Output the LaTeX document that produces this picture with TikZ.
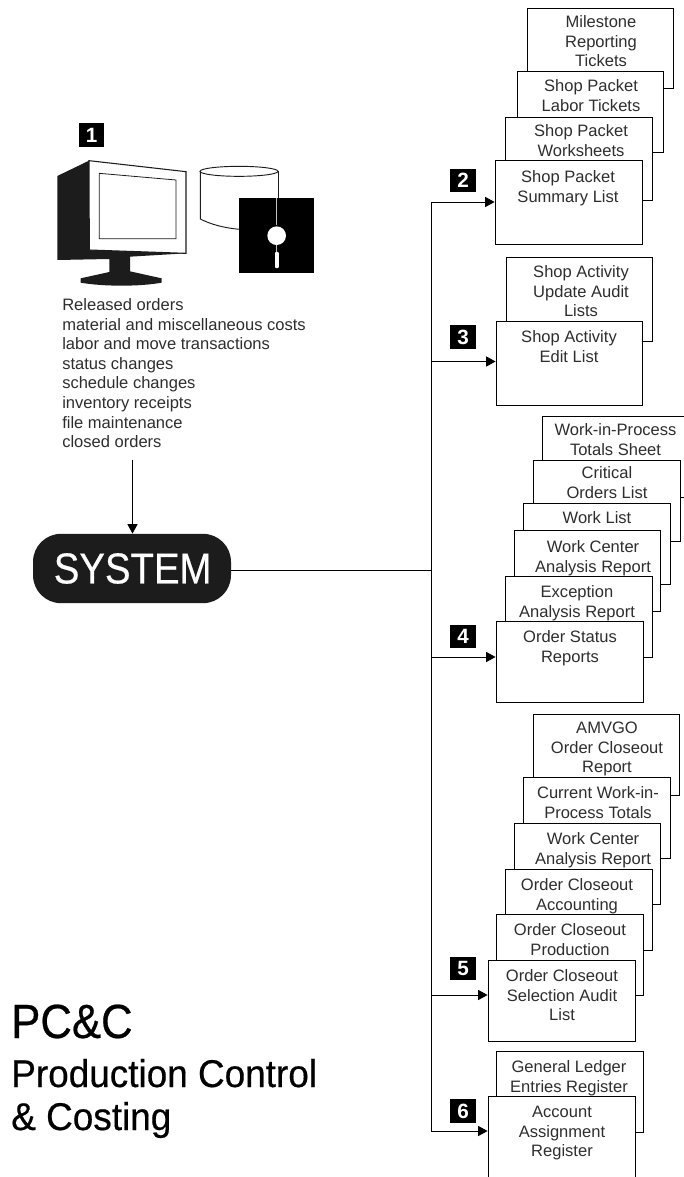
\documentclass[tikz,border=0pt]{standalone}
\usepackage{fontspec}
\setmainfont{Liberation Sans}
\newfontfamily\heavyfont[FakeBold=0.5]{Liberation Sans}
\usetikzlibrary{arrows.meta}
\definecolor{ink}{HTML}{1C1C1C}
\definecolor{bodyink}{HTML}{2E2E2E}
\newcommand{\bodyfont}{\fontsize{12.4pt}{14.7pt}\selectfont}
% \rep{name}{left}{top}{right}{bottom}{text centre x}{first line centre y}{text}
\newcommand{\rep}[8]{%
  \pgfmathsetlengthmacro{\repw}{(#4-#2)*0.75pt}%
  \pgfmathsetlengthmacro{\reph}{(#5-#3)*0.75pt}%
  \node[repbox,minimum width=\repw,minimum height=\reph] (#1) at ({(#2+#4)/2},{(#3+#5)/2}) {};%
  \node[reptext] (#1t) at (#6,#7-10.5) {\rule{0pt}{12pt}#8};%
}
\tikzset{
  x=0.75pt,y=-0.75pt,
  repbox/.style={draw=black,fill=white,line width=0.65pt,inner sep=0pt,rectangle},
  reptext/.style={anchor=north,align=center,inner sep=0pt,text=bodyink,font=\bodyfont},
  tagbox/.style={fill=black,text=white,inner sep=0pt,minimum width=19pt,minimum height=17.5pt,font=\fontsize{15.5pt}{16pt}\selectfont\bfseries},
  conn/.style={draw=black,line width=0.65pt},
  arrowed/.style={conn,-{Triangle[length=7pt,width=7.5pt]}},
  sysnode/.style={fill=ink,text=white,rounded corners=21pt,minimum width=148.5pt,minimum height=52pt,inner sep=0pt,font=\heavyfont\fontsize{32.5pt}{32.5pt}\selectfont},
  titletext/.style={anchor=base west,inner sep=0pt,text=black},
  listtext/.style={anchor=north west,align=left,inner sep=0pt,text=bodyink,font=\bodyfont}
}
\begin{document}
\begin{tikzpicture}
\clip (0,0) rectangle (684,1177);
\fill[white] (0,0) rectangle (684,1177);

% monitor, cylinder, diskette
\begin{scope}[shift={(40,110)},x=0.25pt,y=-0.25pt]
  \fill[ink] (52,198) -- (147,152) -- (148,420) -- (438,430) -- (270,440) -- (270,484)
     -- (365,505) -- (365,518) .. controls (300,530) and (190,530) .. (122,518) -- (122,505)
     -- (208,486) -- (208,447) -- (52,450) -- cycle;
  \draw[ink,line width=0.8pt,fill=white] (147,152) -- (438,185) -- (438,430) -- (148,420) -- cycle;
  \draw[ink,line width=0.6pt] (178,190) -- (408,210) -- (408,386) -- (178,386) -- cycle;
  \draw[ink,line width=0.7pt] (481,184) -- (481,327) .. controls (510,342) and (550,354) .. (600,358);
  \draw[ink,line width=0.7pt] (714,184) -- (714,270);
  \draw[ink,line width=0.7pt] (597,184) ellipse [x radius=117,y radius=15];
  \fill[black] (597,264) rectangle (822,489);
  \draw[white!75!black,line width=0.35pt] (710,264) -- (710,345);
  \draw[white!75!black,line width=0.35pt] (710,405) -- (710,425);
  \fill[white] (710,377) circle [radius=28];
  \draw[white,line width=3pt,line cap=round] (710,431) -- (710,469);
\end{scope}

% number tags
\node[tagbox] (tag1) at (91.5,135) {1};
\node[tagbox] (tag2) at (463,180.5) {2};
\node[tagbox] (tag3) at (463,337) {3};
\node[tagbox] (tag4) at (463,636.5) {4};
\node[tagbox] (tag5) at (463,968.5) {5};
\node[tagbox] (tag6) at (463,1111) {6};

% input list
\node[listtext] (inputs) at (62,294.3) {\rule{0pt}{12pt}Released orders\\material and miscellaneous costs\\labor and move transactions\\status changes\\schedule changes\\inventory receipts\\file maintenance\\closed orders};

% system
\node[sysnode] (sys) at (132,568.5) {\hspace{1pt}\scalebox{0.885}[1]{SYSTEM}};
\coordinate (sysin) at (132.5,460);
\draw[arrowed] (sysin) -- (sysin |- sys.north);

% report stacks
\rep{m1}{527}{8}{673}{88}{601}{22}{Milestone\\Reporting\\Tickets}
\rep{m2}{517}{71}{663}{152}{591}{86}{Shop Packet\\Labor Tickets}
\rep{m3}{505}{117}{652}{200}{581}{131}{Shop Packet\\Worksheets}
\rep{m4}{495}{160}{642}{244}{568}{177}{Shop Packet\\Summary List}

\rep{a1}{506}{257}{652}{341}{581}{272}{Shop Activity\\Update Audit\\Lists}
\rep{a2}{496}{321}{642}{405}{569}{337}{Shop Activity\\Edit List}

\rep{w1}{542}{416}{695}{497}{615.5}{430}{Work-in-Process\\Totals Sheet}
\rep{w2}{533}{460}{680}{541}{607}{473}{Critical\\Orders List}
\rep{w3}{523}{503}{670}{584}{597}{518}{Work List}
\rep{w4}{514}{530}{660}{611}{593}{547}{Work Center\\Analysis Report}
\rep{w5}{505}{576}{652}{657}{577}{592}{Exception\\Analysis Report}
\rep{w6}{496}{621}{643}{702}{570}{637}{Order Status\\Reports}

\rep{c1}{533}{714}{679}{795}{607}{728}{AMVGO\\Order Closeout\\Report}
\rep{c2}{523}{777}{670}{858}{598}{793}{Current Work-in-\\Process Totals}
\rep{c3}{514}{823}{660}{904}{593}{839}{Work Center\\Analysis Report}
\rep{c4}{505}{869}{652}{950}{577}{885}{Order Closeout\\Accounting}
\rep{c5}{496}{914}{643}{995}{570}{930}{Order Closeout\\Production}
\rep{c6}{488}{960}{635}{1041}{562}{976}{Order Closeout\\Selection Audit\\List}

\rep{g1}{496}{1051}{643}{1132}{569}{1067}{General Ledger\\Entries Register}
\rep{g2}{488}{1096}{635}{1200}{562}{1112}{Account\\Assignment\\Register}

% connectors
\coordinate (t2) at (431,202);
\coordinate (t3) at (431,361.5);
\coordinate (tj) at (431,570.5);
\coordinate (t4) at (431,657);
\coordinate (t5) at (431,995);
\coordinate (t6) at (431,1131);
\draw[conn] (tj -| sys.east) -- (tj);
\draw[conn,line cap=rect] (t2) -- (t6);
\draw[arrowed] (t2) -- (t2 -| m4.west);
\draw[arrowed] (t3) -- (t3 -| a2.west);
\draw[arrowed] (t4) -- (t4 -| w6.west);
\draw[arrowed] (t5) -- (t5 -| c6.west);
\draw[arrowed] (t6) -- (t6 -| g2.west);

% title
\node[titletext,font=\heavyfont\fontsize{36pt}{36pt}\selectfont] (title1) at (11,1038) {\scalebox{0.91}[1]{PC\&C}};
\node[titletext,font=\heavyfont\fontsize{29pt}{29pt}\selectfont] (title2) at (11,1087) {\scalebox{0.955}[1]{Production Control}};
\node[titletext,font=\heavyfont\fontsize{29pt}{29pt}\selectfont] (title3) at (11,1130) {\scalebox{0.955}[1]{\& Costing}};
\end{tikzpicture}
\end{document}
